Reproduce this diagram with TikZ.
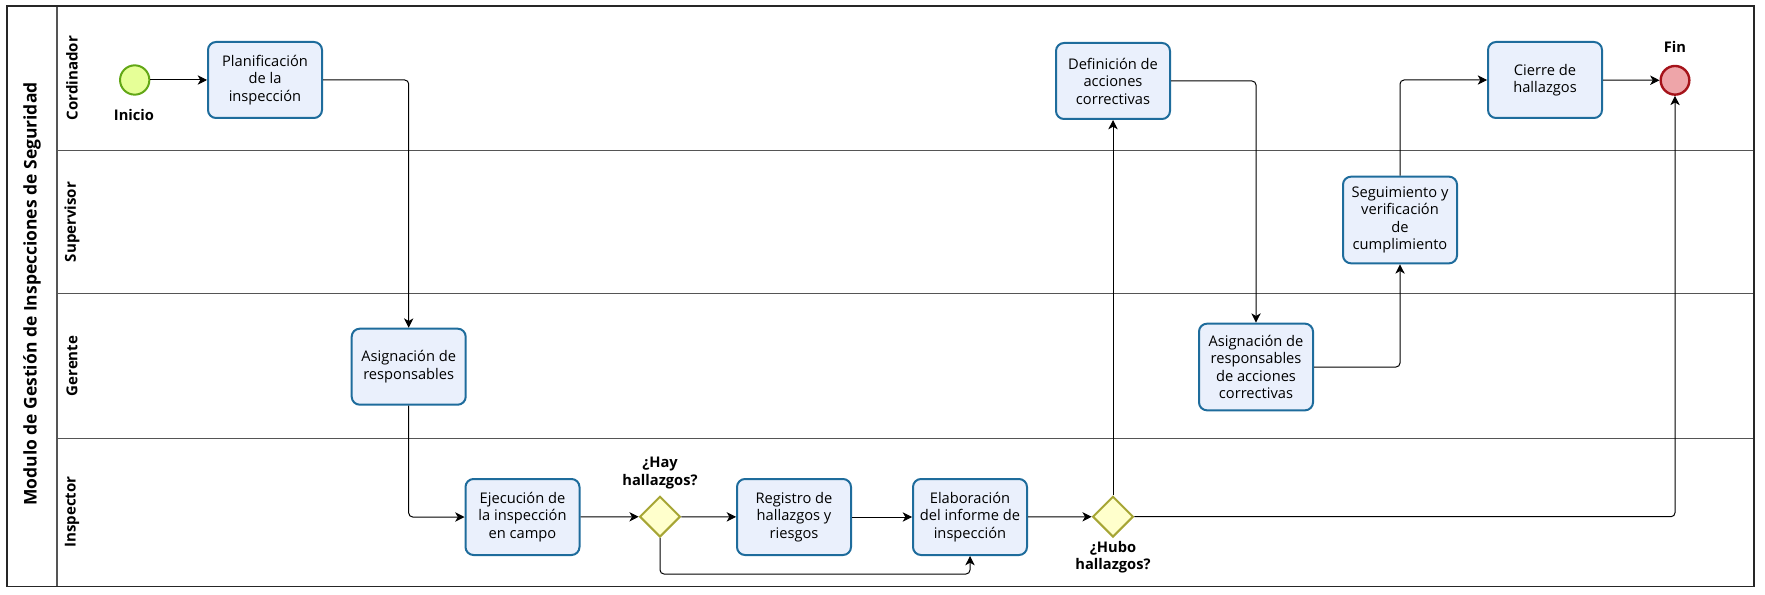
\documentclass[tikz,border=0pt]{standalone}
\usepackage{fontspec}
\setmainfont{Open Sans}
\usetikzlibrary{arrows.meta,shapes.geometric}
\definecolor{taskfill}{HTML}{EAF0FC}
\definecolor{taskdraw}{HTML}{1E6C9C}
\definecolor{startfill}{HTML}{E6FF97}
\definecolor{startdraw}{HTML}{62A716}
\definecolor{endfill}{HTML}{EEA5A9}
\definecolor{enddraw}{HTML}{A5131A}
\definecolor{gatefill}{HTML}{FFFFCC}
\definecolor{gatedraw}{HTML}{A6A534}
\definecolor{lanegray}{HTML}{555555}
\tikzset{
  task/.style={draw=taskdraw, fill=taskfill, line width=1.5pt, rounded corners=6pt,
    minimum width=85.5pt, minimum height=57pt, inner sep=1pt, align=center,
    font=\fontsize{11}{13.1}\selectfont},
  startev/.style={circle, draw=startdraw, fill=startfill, line width=1.5pt, minimum size=22pt, inner sep=0pt},
  endev/.style={circle, draw=enddraw, fill=endfill, line width=1.8pt, minimum size=21.5pt, inner sep=0pt},
  gate/.style={diamond, draw=gatedraw, fill=gatefill, line width=1.5pt, minimum size=30.5pt, inner sep=0pt, aspect=1},
  flow/.style={draw=black, line width=0.75pt, rounded corners=3pt, -{Stealth[length=7pt,width=7pt,inset=2pt]}},
  blabel/.style={font=\fontsize{11}{13}\selectfont\bfseries, align=center, inner sep=0pt},
  lanelabel/.style={font=\fontsize{11.3}{13}\selectfont\bfseries, rotate=90, inner sep=0pt},
  lane/.style={draw=lanegray, line width=0.9pt}
}
\begin{document}
\begin{tikzpicture}[x=0.75pt,y=-0.75pt]
\useasboundingbox (0,0) rectangle (1765,595);
% pool and lanes
\draw[lane] (57,6) -- (57,586.3);
\draw[lane] (57,150.3) -- (1754,150.3);
\draw[lane] (57,293.3) -- (1754,293.3);
\draw[lane] (57,438.7) -- (1754,438.7);
\draw[draw=black!85, line width=1pt] (7,6) rectangle (1754,586.3);
\node[font=\fontsize{13.1}{15}\selectfont\bfseries, rotate=90, inner sep=0pt] (pool) at (32,294) {Modulo de Gestión de Inspecciones de Seguridad};
\node[lanelabel] (l1) at (72,78) {Cordinador};
\node[lanelabel] (l2) at (72,222) {Supervisor};
\node[lanelabel] (l3) at (72,366) {Gerente};
\node[lanelabel] (l4) at (72,512) {Inspector};
% nodes
\node[startev] (start) at (134.7,80) {};
\node[blabel] (startl) at (134,115.5) {Inicio};
\node[task] (plan) at (265,80) {Planificación\\de la\\inspección};
\node[task] (asig) at (408.7,366.7) {Asignación de\\responsables};
\node[task] (ejec) at (522.5,517) {Ejecución de\\la inspección\\en campo};
\node[gate] (g1) at (660,516.7) {};
\node[blabel] (g1l) at (660,473) {¿Hay\\hallazgos?};
\node[task] (reg) at (794,517) {Registro de\\hallazgos y\\riesgos};
\node[task] (elab) at (970,517) {Elaboración\\del informe de\\inspección};
\node[gate] (g2) at (1113,516.7) {};
\node[blabel] (g2l) at (1113,557) {¿Hubo\\hallazgos?};
\node[task] (defn) at (1113,81) {Definición de\\acciones\\correctivas};
\node[task, minimum height=65pt] (asig2) at (1256,367) {Asignación de\\responsables\\de acciones\\correctivas};
\node[task, minimum height=65pt] (seg) at (1400,220) {Seguimiento y\\verificación\\de\\cumplimiento};
\node[task] (cierre) at (1545,80) {Cierre de\\hallazgos};
\node[endev] (fin) at (1675,80.3) {};
\node[blabel] (finl) at (1675,47) {Fin};
\coordinate (byp) at (0,574);
% flows
\draw[flow] (start) -- (plan);
\draw[flow] (plan.east) -| (asig.north);
\draw[flow] (asig.south) |- (ejec.west);
\draw[flow] (ejec) -- (g1);
\draw[flow] (g1) -- (reg);
\draw[flow] (reg) -- (elab);
\draw[flow] (g1.south) -- (g1.south |- byp) -- (elab.south |- byp) -- (elab.south);
\draw[flow] (elab) -- (g2);
\draw[flow] (g2.north) -- (defn.south);
\draw[flow] (defn.east) -| (asig2.north);
\draw[flow] (asig2.east) -| (seg.south);
\draw[flow] (seg.north) |- (cierre.west);
\draw[flow] (cierre) -- (fin);
\draw[flow] (g2.east) -| (fin.south);
\end{tikzpicture}
\end{document}
